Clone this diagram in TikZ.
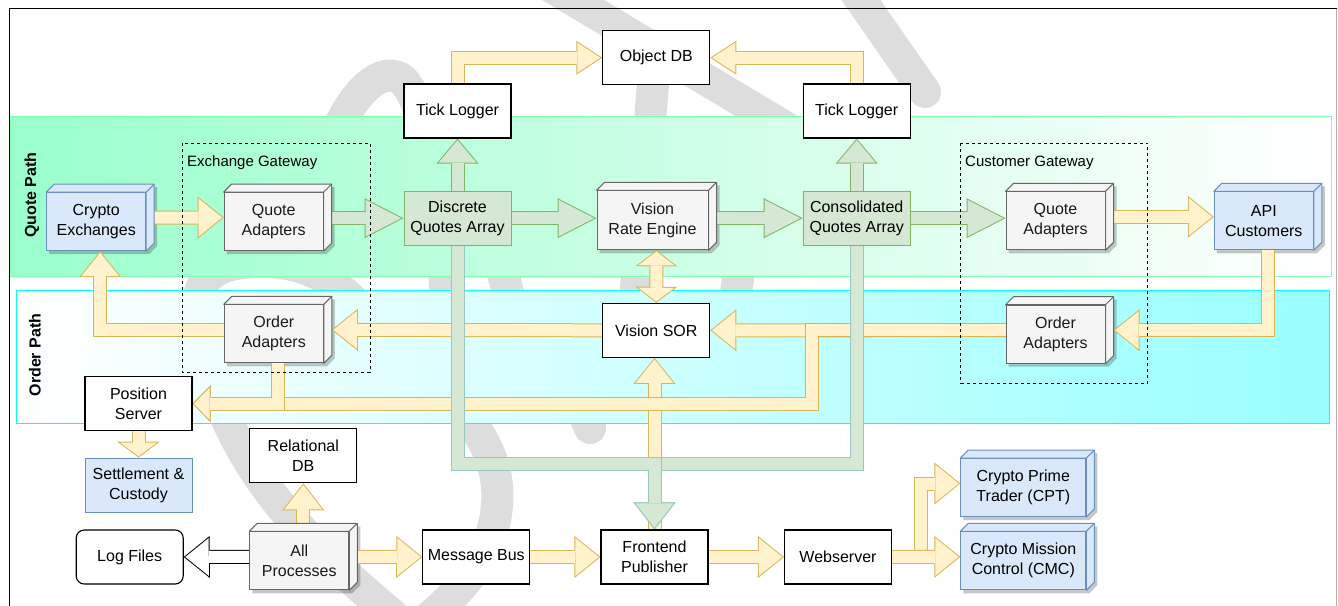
\documentclass[tikz,border=0pt]{standalone}
\usepackage{fontspec}
\setmainfont{Liberation Sans}
\usetikzlibrary{arrows.meta}

\pgfdeclarelayer{back}
\pgfdeclarelayer{shad}
\pgfdeclarelayer{arr}
\pgfsetlayers{back,shad,arr,main}

\definecolor{ybord}{HTML}{D6B656}
\definecolor{yfill}{HTML}{FFF2CC}
\definecolor{gbord}{HTML}{82B366}
\definecolor{gfill}{HTML}{D5E8D4}
\definecolor{tbord}{HTML}{9AC7BF}
\definecolor{bbord}{HTML}{6C8EBF}
\definecolor{bfill}{HTML}{DAE8FC}
\definecolor{cbord}{HTML}{666666}
\definecolor{cfill}{HTML}{F5F5F5}
\definecolor{ctext}{HTML}{1A1A1A}
\definecolor{wmark}{HTML}{DDDDDD}
\definecolor{qband}{HTML}{99FFCC}
\definecolor{qline}{HTML}{80FFB0}
\definecolor{oband}{HTML}{99FFFF}
\definecolor{oline}{HTML}{00FFFF}

\newcommand{\boxfont}{\fontsize{16}{20}\selectfont}
\newcommand{\gatefont}{\fontsize{15}{18}\selectfont}

% Seiten und Schatten eines Würfels
\newcommand{\cubefaces}[2]{%
  \begin{pgfonlayer}{shad}
    \fill[black, opacity=.22] ([shift={(3,3)}]#1.south west) -- ([shift={(3,3)}]#1.north west)
      -- ([shift={(11,-5)}]#1.north west) -- ([shift={(11,-5)}]#1.north east)
      -- ([shift={(11,-5)}]#1.south east) -- ([shift={(3,3)}]#1.south east) -- cycle;
  \end{pgfonlayer}
  \filldraw[#2] (#1.north west) -- ++(8,-8) -- ([shift={(8,-8)}]#1.north east)
    -- ([shift={(8,-8)}]#1.south east) -- (#1.south east) -- (#1.north east) -- cycle;
  \draw[#2] (#1.north east) -- ++(8,-8);
}

\tikzset{
  wbox/.style={draw=black, line width=1.1pt, fill=white, minimum width=107pt, minimum height=54pt,
    align=center, inner sep=1pt, font=\boxfont},
  gbox/.style={wbox, draw=gbord, fill=gfill, line width=1pt},
  bluebox/.style={wbox, draw=bbord, fill=bfill, line width=1pt},
  cubeg/.style={wbox, draw=cbord, fill=cfill, line width=1pt, minimum width=99pt, minimum height=58pt, text=ctext},
  cubeb/.style={wbox, draw=bbord, fill=bfill, line width=1pt, minimum width=99pt, minimum height=58pt},
  facesg/.style={draw=cbord, fill=cfill, line width=1pt, line join=round},
  facesb/.style={draw=bbord, fill=bfill, line width=1pt, line join=round},
  gate/.style={draw=black, line width=1pt, dash pattern=on 3pt off 3pt},
  wmk/.style={draw=wmark, line width=32pt, line cap=round},
  flex/.code n args={4}{%
    \pgfmathsetmacro\flexs{1/sin(atan((#4/2)/#3))}%
    \pgfmathsetmacro\flexl{#3-1-\flexs}%
    \pgfmathsetmacro\flexw{\flexl*#4/#3}%
    \pgfkeysalso{line width=14pt, draw=#1,
      -{Triangle[length=#3pt, width=#4pt, line width=0pt]},
      postaction={draw=#2, line width=12pt, shorten >=\flexs pt,
        -{Triangle[length=\flexl pt, width=\flexw pt, line width=0pt]}}}%
  },
  flexx/.code n args={4}{%
    \pgfmathsetmacro\flexs{1/sin(atan((#4/2)/#3))}%
    \pgfmathsetmacro\flexl{#3-1-\flexs}%
    \pgfmathsetmacro\flexw{\flexl*#4/#3}%
    \pgfkeysalso{line width=14pt, draw=#1,
      {Triangle[length=#3pt, width=#4pt, line width=0pt]}-{Triangle[length=#3pt, width=#4pt, line width=0pt]},
      postaction={draw=#2, line width=12pt, shorten >=\flexs pt, shorten <=\flexs pt,
        {Triangle[length=\flexl pt, width=\flexw pt, line width=0pt]}-{Triangle[length=\flexl pt, width=\flexw pt, line width=0pt]}}}%
  },
  yarr/.style={flex={ybord}{yfill}{26}{42}},
  yarrs/.style={flex={ybord}{yfill}{18}{37}},
  warr/.style={flex={black}{white}{26}{42}},
  garr/.style={flex={gbord}{gfill}{39}{40}},
  gvarr/.style={flex={gbord}{gfill}{25}{42}},
  tarr/.style={flex={tbord}{gfill}{27}{42}},
}

\begin{document}
\begin{tikzpicture}[x=1pt, y=-1pt]
    \useasboundingbox (0,0) rectangle (1338,605);

    \begin{pgfonlayer}{back}
        %Wasserzeichen
        \draw[wmk] (405,625) .. controls (300,540) and (240,470) .. (212,380) .. controls (185,290) and (195,262) .. (262,262)
            .. controls (330,262) and (350,300) .. (400,350) .. controls (450,400) and (510,440) .. (495,520)
            .. controls (485,570) and (450,600) .. (420,625);
        \draw[wmk] (335,135) .. controls (355,90) and (380,68) .. (400,78) .. controls (425,95) and (445,200) .. (445,300);
        \draw[wmk] (548,-15) -- (790,130);
        \draw[wmk] (655,60) -- (635,300);
        \draw[wmk] (840,-30) -- (925,92);
        \draw[wmk] (590,428) -- (560,360);
        \draw[wmk] (470,150) -- (510,300);
        \draw[wmk] (745,230) -- (735,300);

        %Bänder
        \draw[draw=qline, line width=1pt, left color=qband, right color=white] (10,116.7) rectangle (1331.7,276.7);
        \draw[draw=oline, line width=1pt, left color=white, right color=oband] (16,290.3) rectangle (1329,423.3);
    \end{pgfonlayer}

    \node[rotate=90, font=\bfseries\boxfont] (qpath) at (32,195) {Quote Path};
    \node[rotate=90, font=\bfseries\boxfont] (opath) at (35,355) {Order Path};

    %Gateways
    \draw[gate] (182.7,143.3) rectangle (370,372.7);
    \node[anchor=west, font=\gatefont, inner sep=0pt] (xgw) at (187,163) {Exchange Gateway};
    \draw[gate] (960.7,143.3) rectangle (1147.7,383.3);
    \node[anchor=west, font=\gatefont, inner sep=0pt] (cgw) at (965,163) {Customer Gateway};

    %Kästen
    \node[wbox] (tl1) at (457.5,111) {Tick Logger};
    \node[wbox] (odb) at (656.3,57.7) {Object DB};
    \node[wbox] (tl2) at (856.7,111) {Tick Logger};
    \node[gbox] (dqa) at (457.5,218.2) {Discrete\\Quotes Array};
    \node[gbox] (cqa) at (856.7,218.2) {Consolidated\\Quotes Array};
    \node[wbox] (sor) at (656.3,330.3) {Vision SOR};
    \node[wbox] (pos) at (138.5,403.7) {Position\\Server};
    \node[bluebox] (stl) at (138.5,485) {Settlement \&\\Custody};
    \node[wbox] (rdb) at (303.3,455.7) {Relational\\DB};
    \node[wbox, rounded corners=8pt] (log) at (129.7,557) {Log Files};
    \node[wbox] (mbus) at (476.3,557) {Message Bus};
    \node[wbox] (fpub) at (654.5,557) {Frontend\\Publisher};
    \node[wbox] (web) at (838,557) {Webserver};

    %Würfel
    \node[cubeb] (cex) at (96.2,221.7) {Crypto\\Exchanges};
    \node[cubeg] (qa1) at (273.7,221.5) {Quote\\Adapters};
    \node[cubeg] (oa1) at (273.8,333.8) {Order\\Adapters};
    \node[cubeg, minimum width=111pt, minimum height=59pt] (vre) at (652.5,220.3) {Vision\\Rate Engine};
    \node[cubeg] (qa2) at (1055.5,220.8) {Quote\\Adapters};
    \node[cubeb] (api) at (1263.8,220.8) {API\\Customers};
    \node[cubeg] (oa2) at (1055.5,334.2) {Order\\Adapters};
    \node[cubeg] (allp) at (299.3,560.8) {All\\Processes};
    \node[cubeb, minimum width=125pt] (cpt) at (1023.3,487.5) {Crypto Prime\\Trader (CPT)};
    \node[cubeb, minimum width=125pt] (cmc) at (1023.3,560.8) {Crypto Mission\\Control (CMC)};
    \cubefaces{cex}{facesb}
    \cubefaces{qa1}{facesg}
    \cubefaces{oa1}{facesg}
    \cubefaces{vre}{facesg}
    \cubefaces{qa2}{facesg}
    \cubefaces{api}{facesb}
    \cubefaces{oa2}{facesg}
    \cubefaces{allp}{facesg}
    \cubefaces{cpt}{facesb}
    \cubefaces{cmc}{facesb}

    \begin{pgfonlayer}{arr}
        %gelbe Pfeile
        \draw[yarr] (fpub.north) -- (fpub.north |- sor.south);
        \draw[yarr] ([yshift=4pt]cex.east) -- ([yshift=4pt]qa1.west);
        \draw[yarr] ([yshift=4pt]qa2.east) -- ([yshift=4pt]api.west);
        \draw[yarr] ([xshift=4pt]api.south) |- ([xshift=8pt,yshift=4pt]oa2.east);
        \draw[yarr] ([yshift=4pt]oa2.west) -- (sor.east);
        \draw[yarrs] ([yshift=4pt]oa2.west) -- ++(-194,0) |- (pos.east);
        \draw[yarrs] ([xshift=4pt]oa1.south) |- (pos.east);
        \draw[yarr] (sor.west) -- ([xshift=8pt,yshift=4pt]oa1.east);
        \draw[yarr] ([yshift=4pt]oa1.west) -| ([xshift=4pt]cex.south);
        \draw[flexx={ybord}{yfill}{16}{42}] ([xshift=4pt]vre.south) -- (sor.north);
        \draw[flex={ybord}{yfill}{26}{34}] (tl1.north) |- (odb.west);
        \draw[flex={ybord}{yfill}{26}{34}] (tl2.north) |- (odb.east);
        \draw[flex={ybord}{yfill}{16}{43}] (pos.south) -- (stl.north);
        \draw[flex={ybord}{yfill}{27}{42}] ([xshift=4pt]allp.north) -- (rdb.south);
        \draw[yarr] ([yshift=4pt]allp.east) -- (mbus.west);
        \draw[warr] ([yshift=4pt]allp.west) -- (log.east);
        \draw[yarr] (mbus.east) -- (fpub.west);
        \draw[yarr] (fpub.east) -- (web.west);
        \draw[yarr] (web.east) -- ++(29,0) |- ([yshift=4pt]cpt.west);
        \draw[yarr] (web.east) -- ([yshift=4pt]cmc.west);

        %grüne Pfeile
        \draw[garr] (dqa.west -| qa1.east) -- (dqa.west);
        \draw[garr] (dqa.east) -- (dqa.east -| vre.west);
        \draw[garr] (cqa.west -| vre.east) -- (cqa.west);
        \draw[garr] (cqa.east) -- (cqa.east -| qa2.west);
        \draw[gvarr] (dqa.north) -- (tl1.south);
        \draw[gvarr] (cqa.north) -- (tl2.south);
        \draw[tarr] (cqa.south) -- ++(0,218) -| (fpub.north);
        \draw[tarr] (dqa.south) -- ++(0,218) -| (fpub.north);
    \end{pgfonlayer}

    %Rahmen
    \draw[black, line width=1.3pt] (9.5,620) -- (9.5,8.5) -- (1336.5,8.5);
    \draw[gray!60, line width=1pt] (1336.5,8.5) -- (1336.5,620);
\end{tikzpicture}
\end{document}
